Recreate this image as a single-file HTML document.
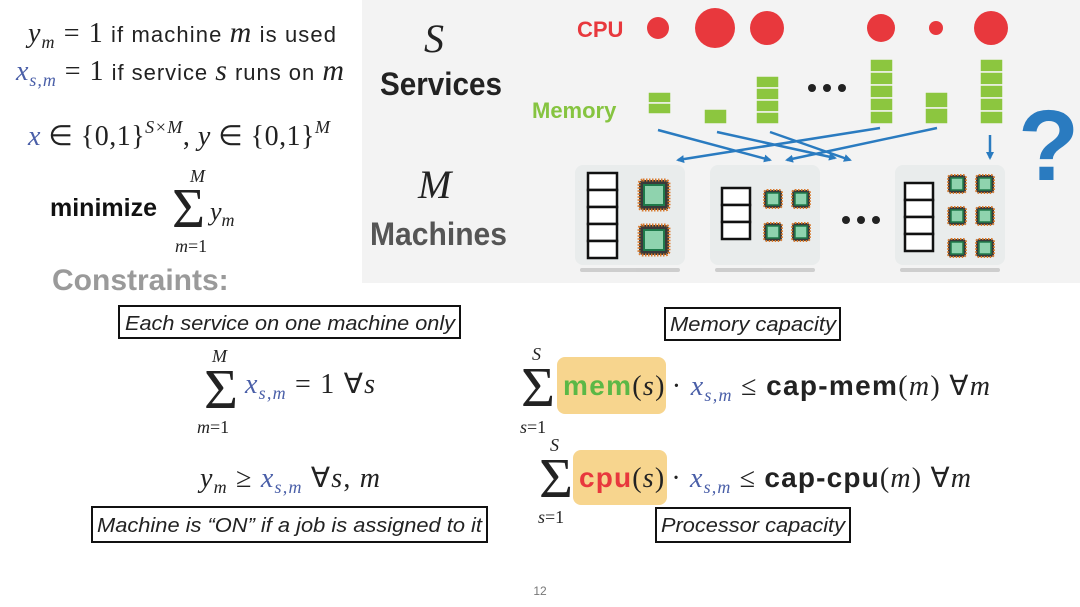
<!DOCTYPE html>
<html><head><meta charset="utf-8"><style>
html,body{margin:0;padding:0;background:#fff;}
svg{display:block}
.sf{font-family:"Liberation Serif",serif;}
.ss{font-family:"Liberation Sans",sans-serif;}
</style></head><body>
<svg width="1080" height="607" viewBox="0 0 1080 607" xmlns="http://www.w3.org/2000/svg">
<defs>
<marker id="ah" markerWidth="8" markerHeight="8" refX="6" refY="4" orient="auto" markerUnits="userSpaceOnUse"><path d="M0,0 L8,4 L0,8 z" fill="#2a7bc0"/></marker>
<g id="chipS">
<rect x="-9" y="-9" width="18" height="18" rx="3" fill="#3a3a3a" stroke="#d9792b" stroke-width="2" stroke-dasharray="1.5 1.5"/>
<rect x="-6" y="-6" width="12" height="12" fill="#8fd3ae" stroke="#1e7a4a" stroke-width="1.5"/>
</g>
<g id="chipL">
<rect x="-15" y="-15" width="30" height="30" rx="4" fill="#3a3a3a" stroke="#d9792b" stroke-width="3" stroke-dasharray="1.5 1.5"/>
<rect x="-10" y="-10" width="20" height="20" fill="#8fd3ae" stroke="#1e7a4a" stroke-width="2"/>
</g>
</defs>

<g class="sf" font-size="28" fill="#222">
<text x="28" y="42" textLength="308" lengthAdjust="spacing"><tspan font-style="italic">y</tspan><tspan font-style="italic" font-size="18" dy="6">m</tspan><tspan dy="-6"> = 1</tspan><tspan font-family="Liberation Sans" font-size="22"> if machine </tspan><tspan font-style="italic" font-size="30">m</tspan><tspan font-family="Liberation Sans" font-size="22"> is used</tspan></text>
<text x="16" y="80" textLength="328" lengthAdjust="spacing"><tspan font-style="italic" fill="#4a5fa8">x</tspan><tspan font-style="italic" font-size="18" dy="6" fill="#4a5fa8">s,m</tspan><tspan dy="-6"> = 1</tspan><tspan font-family="Liberation Sans" font-size="22"> if service </tspan><tspan font-style="italic" font-size="30">s</tspan><tspan font-family="Liberation Sans" font-size="22"> runs on </tspan><tspan font-style="italic" font-size="30">m</tspan></text>
<text x="28" y="145" textLength="302" lengthAdjust="spacing"><tspan font-style="italic" fill="#4a5fa8">x</tspan> ∈ {0,1}<tspan font-size="18" dy="-12" font-style="italic">S×M</tspan><tspan dy="12">, </tspan><tspan font-style="italic">y</tspan> ∈ {0,1}<tspan font-size="18" dy="-12" font-style="italic">M</tspan></text>
</g>
<text x="50" y="216" class="ss" font-size="25" font-weight="bold" fill="#111">minimize</text>
<text x="172" y="227" class="sf" font-size="56" fill="#222" textLength="33" lengthAdjust="spacingAndGlyphs">Σ</text>
<text x="190" y="182" class="sf" font-size="18" font-style="italic" fill="#222">M</text>
<text x="175" y="252" class="sf" font-size="18" fill="#222"><tspan font-style="italic">m</tspan>=1</text>
<text x="210" y="220" class="sf" font-size="26" font-style="italic" fill="#222">y<tspan font-size="18" dy="6">m</tspan></text>
<text x="52" y="290" class="ss" font-size="30" font-weight="bold" fill="#9a9a9a">Constraints:</text>

<rect x="362" y="0" width="718" height="283" fill="#f3f3f3"/>
<text x="424" y="52" class="sf" font-size="40" font-style="italic" fill="#222">S</text>
<text x="380" y="95" class="ss" font-size="32" font-weight="bold" fill="#222" textLength="122" lengthAdjust="spacingAndGlyphs">Services</text>
<text x="418" y="198" class="sf" font-size="40" font-style="italic" fill="#222">M</text>
<text x="370" y="245" class="ss" font-size="32" font-weight="bold" fill="#555" textLength="137" lengthAdjust="spacingAndGlyphs">Machines</text>

<text x="577" y="37" class="ss" font-size="22" font-weight="bold" fill="#e8383d">CPU</text>
<g fill="#e8383d">
<circle cx="658" cy="28" r="11"/><circle cx="715" cy="28" r="20"/><circle cx="767" cy="28" r="17"/>
<circle cx="881" cy="28" r="14"/><circle cx="936" cy="28" r="7"/><circle cx="991" cy="28" r="17"/>
</g>
<text x="532" y="118" class="ss" font-size="22" font-weight="bold" fill="#86c440">Memory</text>
<g fill="#8cc63f" stroke="#f3f3f3" stroke-width="1.5">
<rect x="648" y="92" width="23" height="11"/><rect x="648" y="103" width="23" height="11"/>
<rect x="704" y="109" width="23" height="15"/>
<rect x="756" y="76" width="23" height="12"/><rect x="756" y="88" width="23" height="12"/><rect x="756" y="100" width="23" height="12"/><rect x="756" y="112" width="23" height="12"/>
<rect x="870" y="59" width="23" height="13"/><rect x="870" y="72" width="23" height="13"/><rect x="870" y="85" width="23" height="13"/><rect x="870" y="98" width="23" height="13"/><rect x="870" y="111" width="23" height="13"/>
<rect x="925" y="92" width="23" height="16"/><rect x="925" y="108" width="23" height="16"/>
<rect x="980" y="59" width="23" height="13"/><rect x="980" y="72" width="23" height="13"/><rect x="980" y="85" width="23" height="13"/><rect x="980" y="98" width="23" height="13"/><rect x="980" y="111" width="23" height="13"/>
</g>
<g fill="#222"><circle cx="812" cy="88" r="4"/><circle cx="827" cy="88" r="4"/><circle cx="842" cy="88" r="4"/></g>

<g stroke="#2a7bc0" stroke-width="2.5" fill="none" marker-end="url(#ah)">
<line x1="658" y1="130" x2="770" y2="160"/>
<line x1="717" y1="132" x2="835" y2="158"/>
<line x1="770" y1="132" x2="850" y2="160"/>
<line x1="880" y1="128" x2="678" y2="160"/>
<line x1="937" y1="128" x2="787" y2="160"/>
<line x1="990" y1="135" x2="990" y2="158"/>
</g>

<text x="1018" y="180" class="ss" font-size="100" font-weight="bold" fill="#2a7bc0">?</text>

<g fill="#e9ecec">
<rect x="575" y="165" width="110" height="100" rx="8"/>
<rect x="710" y="165" width="110" height="100" rx="8"/>
<rect x="895" y="165" width="110" height="100" rx="8"/>
</g>
<g fill="#bdbdbd" opacity="0.7">
<rect x="580" y="268" width="100" height="4" rx="2"/><rect x="715" y="268" width="100" height="4" rx="2"/><rect x="900" y="268" width="100" height="4" rx="2"/>
</g>
<g fill="#fff" stroke="#111" stroke-width="2.5">
<rect x="588" y="173" width="29" height="17"/><rect x="588" y="190" width="29" height="17"/><rect x="588" y="207" width="29" height="17"/><rect x="588" y="224" width="29" height="17"/><rect x="588" y="241" width="29" height="17"/>
<rect x="722" y="188" width="28" height="17"/><rect x="722" y="205" width="28" height="17"/><rect x="722" y="222" width="28" height="17"/>
<rect x="905" y="183" width="28" height="17"/><rect x="905" y="200" width="28" height="17"/><rect x="905" y="217" width="28" height="17"/><rect x="905" y="234" width="28" height="17"/>
</g>
<use href="#chipL" x="654" y="195"/><use href="#chipL" x="654" y="240"/>
<use href="#chipS" x="773" y="199"/><use href="#chipS" x="801" y="199"/><use href="#chipS" x="773" y="232"/><use href="#chipS" x="801" y="232"/>
<use href="#chipS" x="957" y="184"/><use href="#chipS" x="985" y="184"/><use href="#chipS" x="957" y="216"/><use href="#chipS" x="985" y="216"/><use href="#chipS" x="957" y="248"/><use href="#chipS" x="985" y="248"/>
<g fill="#222"><circle cx="846" cy="220" r="4"/><circle cx="861" cy="220" r="4"/><circle cx="876" cy="220" r="4"/></g>

<g stroke="#111" stroke-width="2" fill="#fff">
<rect x="119" y="306" width="341" height="32"/>
<rect x="92" y="507" width="395" height="35"/>
<rect x="665" y="308" width="175" height="32"/>
<rect x="656" y="508" width="194" height="34"/>
</g>
<g class="ss" font-size="20" font-style="italic" fill="#222">
<text x="125" y="330" textLength="330" lengthAdjust="spacingAndGlyphs">Each service on one machine only</text>
<text x="97" y="532" textLength="385" lengthAdjust="spacingAndGlyphs">Machine is “ON” if a job is assigned to it</text>
<text x="670" y="331" textLength="166" lengthAdjust="spacingAndGlyphs">Memory capacity</text>
<text x="661" y="532" textLength="184" lengthAdjust="spacingAndGlyphs">Processor capacity</text>
</g>

<g class="sf" fill="#222">
<text x="204" y="408" font-size="56" textLength="34" lengthAdjust="spacingAndGlyphs">Σ</text>
<text x="212" y="362" font-size="18" font-style="italic">M</text>
<text x="197" y="433" font-size="18"><tspan font-style="italic">m</tspan>=1</text>
<text x="245" y="393" font-size="28" textLength="130" lengthAdjust="spacing"><tspan font-style="italic" fill="#4a5fa8">x</tspan><tspan font-style="italic" font-size="18" dy="6" fill="#4a5fa8">s,m</tspan><tspan dy="-6"> = 1  ∀</tspan><tspan font-style="italic">s</tspan></text>
<text x="200" y="487" font-size="28" textLength="180" lengthAdjust="spacing"><tspan font-style="italic">y</tspan><tspan font-style="italic" font-size="18" dy="6">m</tspan><tspan dy="-6"> ≥ </tspan><tspan font-style="italic" fill="#4a5fa8">x</tspan><tspan font-style="italic" font-size="18" dy="6" fill="#4a5fa8">s,m</tspan><tspan dy="-6">  ∀</tspan><tspan font-style="italic">s</tspan>, <tspan font-style="italic">m</tspan></text>

<rect x="557" y="357" width="109" height="57" rx="8" fill="#f7d58e"/>
<text x="521" y="406" font-size="56" textLength="34" lengthAdjust="spacingAndGlyphs">Σ</text>
<text x="532" y="360" font-size="18" font-style="italic">S</text>
<text x="520" y="433" font-size="18"><tspan font-style="italic">s</tspan>=1</text>
<text x="563" y="395" font-size="28" textLength="427" lengthAdjust="spacing"><tspan font-family="Liberation Sans" font-weight="bold" fill="#5bb846">mem</tspan>(<tspan font-style="italic">s</tspan>)<tspan dx="6">· </tspan><tspan font-style="italic" fill="#4a5fa8">x</tspan><tspan font-style="italic" font-size="18" dy="6" fill="#4a5fa8">s,m</tspan><tspan dy="-6"> ≤ </tspan><tspan font-family="Liberation Sans" font-weight="bold">cap-mem</tspan>(<tspan font-style="italic">m</tspan>)  ∀<tspan font-style="italic">m</tspan></text>

<rect x="573" y="450" width="94" height="55" rx="8" fill="#f7d58e"/>
<text x="539" y="497" font-size="56" textLength="34" lengthAdjust="spacingAndGlyphs">Σ</text>
<text x="550" y="451" font-size="18" font-style="italic">S</text>
<text x="538" y="523" font-size="18"><tspan font-style="italic">s</tspan>=1</text>
<text x="579" y="487" font-size="28" textLength="392" lengthAdjust="spacing"><tspan font-family="Liberation Sans" font-weight="bold" fill="#e8383d">cpu</tspan>(<tspan font-style="italic">s</tspan>)<tspan dx="6">· </tspan><tspan font-style="italic" fill="#4a5fa8">x</tspan><tspan font-style="italic" font-size="18" dy="6" fill="#4a5fa8">s,m</tspan><tspan dy="-6"> ≤ </tspan><tspan font-family="Liberation Sans" font-weight="bold">cap-cpu</tspan>(<tspan font-style="italic">m</tspan>)  ∀<tspan font-style="italic">m</tspan></text>
</g>

<text x="540" y="595" class="ss" font-size="12" fill="#777" text-anchor="middle">12</text>
</svg>
</body></html>
